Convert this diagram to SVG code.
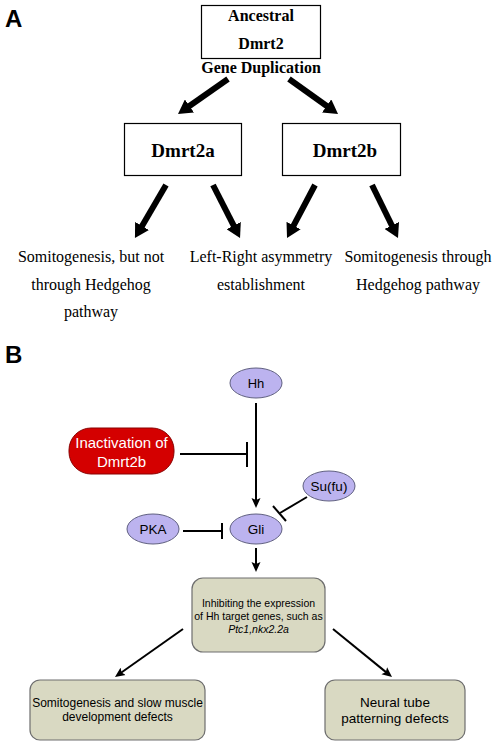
<svg xmlns="http://www.w3.org/2000/svg" width="498" height="746" viewBox="0 0 498 746">
<style>
.lbl{font-family:"Liberation Sans",Arial,sans-serif;font-weight:bold;font-size:24px;fill:#000}
.sb{font-family:"Liberation Serif","Times New Roman",serif;font-weight:bold;fill:#000;text-anchor:middle}
.sr{font-family:"Liberation Serif","Times New Roman",serif;font-size:16px;fill:#000;text-anchor:middle}
.ss{font-family:"Liberation Sans",Arial,sans-serif;fill:#000;text-anchor:middle}
.box{fill:#fff;stroke:#000;stroke-width:1.2}
.thick{stroke:#000;stroke-width:6;fill:none;marker-end:url(#big)}
.thin{stroke:#000;stroke-width:2;fill:none;marker-end:url(#small)}
.inh{stroke:#000;stroke-width:2;fill:none}
.ell{fill:#bcb3ef;stroke:#5f5f80;stroke-width:1}
.olive{fill:#d9d9c2;stroke:#6e6e6e;stroke-width:1.2}
</style>
<defs>
<marker id="big" markerUnits="userSpaceOnUse" markerWidth="14" markerHeight="16" refX="4" refY="8" orient="auto">
<path d="M0,0 L14,8 L0,16 z" fill="#000"/>
</marker>
<marker id="small" markerUnits="userSpaceOnUse" markerWidth="10" markerHeight="10" refX="3" refY="5" orient="auto">
<path d="M0,0.5 L10,5 L0,9.5 L2,5 z" fill="#000"/>
</marker>
</defs>
<rect width="498" height="746" fill="#fff"/>
<text class="lbl" x="5" y="27">A</text>
<text class="lbl" x="5" y="363">B</text>

<g id="ancestral">
<rect class="box" x="201.5" y="5.5" width="119" height="53"/>
<text class="sb" x="261" y="21" font-size="16">Ancestral</text>
<text class="sb" x="261" y="49" font-size="16">Dmrt2</text>
</g>
<g id="gene-dup"><text class="sb" x="261" y="73" font-size="16">Gene Duplication</text></g>
<g id="dmrt2a">
<rect class="box" x="124.5" y="123.5" width="117" height="52"/>
<text class="sb" x="183" y="157" font-size="19">Dmrt2a</text>
</g>
<g id="dmrt2b">
<rect class="box" x="282.5" y="123.5" width="118" height="52"/>
<text class="sb" x="345" y="157" font-size="19">Dmrt2b</text>
</g>
<g id="somito-a">
<text class="sr" x="91" y="262">Somitogenesis, but not</text>
<text class="sr" x="91" y="290">through Hedgehog</text>
<text class="sr" x="91" y="317">pathway</text>
</g>
<g id="left-right">
<text class="sr" x="261" y="262">Left-Right asymmetry</text>
<text class="sr" x="261" y="290">establishment</text>
</g>
<g id="somito-b">
<text class="sr" x="418" y="262">Somitogenesis through</text>
<text class="sr" x="418" y="290">Hedgehog pathway</text>
</g>

<g id="hh"><ellipse class="ell" cx="256" cy="383" rx="26" ry="15"/><text class="ss" x="256" y="388" font-size="13">Hh</text></g>
<g id="inactivation">
<rect x="69" y="428" width="105" height="46" rx="22" fill="#d40000" stroke="#8a0000" stroke-width="1"/>
<text class="ss" x="121.5" y="448" font-size="15" fill="#fff" style="fill:#fff">Inactivation of</text>
<text class="ss" x="121.5" y="467" font-size="15" style="fill:#fff">Dmrt2b</text>
</g>
<g id="sufu"><ellipse class="ell" cx="329" cy="486" rx="26" ry="15"/><text class="ss" x="329" y="491" font-size="13.5">Su(fu)</text></g>
<g id="pka"><ellipse class="ell" cx="153" cy="529" rx="26" ry="15"/><text class="ss" x="153" y="534" font-size="13.5">PKA</text></g>
<g id="gli"><ellipse class="ell" cx="256" cy="529" rx="26" ry="15"/><text class="ss" x="256" y="534" font-size="13.5">Gli</text></g>
<g id="inhibiting">
<rect class="olive" x="192" y="578" width="133" height="74" rx="11"/>
<text class="ss" x="258.5" y="607" font-size="10.5">Inhibiting the expression</text>
<text class="ss" x="258.5" y="620" font-size="10.5">of Hh target genes, such as</text>
<text class="ss" x="258.5" y="633" font-size="10.5" font-style="italic">Ptc1,nkx2.2a</text>
</g>
<g id="somito-defects">
<rect class="olive" x="30" y="680" width="175" height="60" rx="10"/>
<text class="ss" x="117.5" y="707" font-size="12">Somitogenesis and slow muscle</text>
<text class="ss" x="117.5" y="721" font-size="12">development defects</text>
</g>
<g id="neural">
<rect class="olive" x="325" y="680" width="140" height="60" rx="10"/>
<text class="ss" x="395" y="707" font-size="13.5">Neural tube</text>
<text class="ss" x="395" y="723" font-size="13.5">patterning defects</text>
</g>

<g id="connectors">
<line class="thick" x1="228" y1="79" x2="186.2" y2="108.3"/>
<line class="thick" x1="289" y1="79" x2="329.9" y2="108.2"/>
<line class="thick" x1="166" y1="185" x2="140" y2="229.4"/>
<line class="thick" x1="213" y1="185" x2="235.5" y2="229.1"/>
<line class="thick" x1="315" y1="185" x2="291.7" y2="229.1"/>
<line class="thick" x1="372" y1="185" x2="393.6" y2="229"/>

<line class="thin" x1="256" y1="403" x2="256" y2="501"/>
<line class="inh" x1="180" y1="454" x2="247" y2="454"/>
<line class="inh" x1="247" y1="442" x2="247" y2="467"/>
<line class="inh" x1="183" y1="531" x2="222" y2="531"/>
<line class="inh" x1="222" y1="523" x2="222" y2="539"/>
<line class="inh" x1="307" y1="497" x2="280" y2="513"/>
<line class="inh" x1="273" y1="506" x2="286" y2="521"/>
<line class="thin" x1="256" y1="548" x2="256" y2="565"/>
<line class="thin" x1="183" y1="629" x2="120.7" y2="673"/>
<line class="thin" x1="333" y1="629" x2="386.6" y2="672.6"/>
</g>
</svg>
